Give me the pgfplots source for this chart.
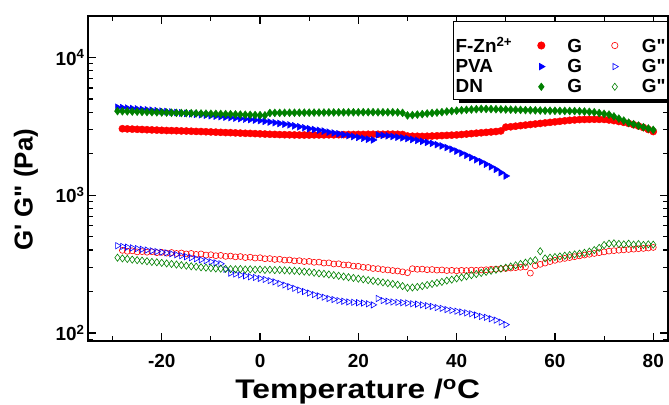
\documentclass[border=0pt]{standalone}
\usepackage{pgfplots}
\pgfplotsset{compat=1.18}
\usepackage{fontspec}
\setmainfont{Liberation Sans}
\newfontfamily\xlabfont{Liberation Sans Bold}[FakeStretch=1.18]
\usetikzlibrary{shadows}
\definecolor{dngreen}{RGB}{0,128,0}
\begin{document}
\begin{tikzpicture}
\path[use as bounding box] (-88bp,-64bp) rectangle (581bp,341bp);
\begin{axis}[
  scale only axis, width=580bp, height=325bp,
  at={(0,0)}, anchor=south west,
  xmin=-35, xmax=83, ymode=log, ymin=87.5, ymax=20000,
  xtick={-20,0,20,40,60,80}, xticklabels={-20,0,20,40,60,80},
  minor xtick={-30,-10,10,30,50,70},
  ytick={100,1000,10000},
  yticklabels={10\textsuperscript{2},10\textsuperscript{3},10\textsuperscript{4}},
  minor ytick={90,200,300,400,500,600,700,800,900,2000,3000,4000,5000,6000,7000,8000,9000},
  major tick length=8bp, minor tick length=5bp,
  axis line style={line width=1.6bp},
  major tick style={black, line width=1.4bp},
  minor tick style={black, line width=1.2bp},
  tick label style={font=\fontsize{19}{22}\selectfont\bfseries},
  xticklabel style={yshift=-10bp},
  xlabel={Temperature /\textsuperscript{o}C},
  ylabel={G\textquotesingle{} G\textquotedbl{} (Pa)},
  xlabel style={font=\fontsize{27}{32}\selectfont\xlabfont, at={(axis description cs:0.465,-0.178)}, anchor=base},
  ylabel style={font=\fontsize{26}{30}\selectfont\bfseries, at={(axis description cs:-0.107,0.465)}, anchor=center},
  legend columns=3,
  legend cell align=left,
  legend image code/.code={\draw[#1] plot coordinates {(0bp,0bp)};},
  legend style={at={(axis description cs:1,0.985)}, anchor=north east,
    font=\fontsize{19}{22}\selectfont\bfseries, draw=black, line width=0.8bp, fill=white,
    drop shadow={shadow xshift=5bp, shadow yshift=-3.5bp, fill=black, opacity=1},
    inner xsep=0bp, inner ysep=3bp, row sep=1.5bp,
    /tikz/column 1/.style={column sep=0bp},
    /tikz/column 2/.style={column sep=23.5bp},
    /tikz/column 3/.style={column sep=20.5bp},
    /tikz/column 4/.style={column sep=27.5bp},
    /tikz/column 5/.style={column sep=21.5bp}},
]
\addlegendimage{empty legend}\addlegendentry{\rule{0pt}{26bp}F-Zn\textsuperscript{2+}}
\addlegendimage{only marks, mark=*, mark size=3.6bp, red, /tikz/yshift=-5.5bp}\addlegendentry{\rule{0pt}{26bp}G}
\addlegendimage{only marks, mark=o, mark size=3.2bp, red, mark options={line width=0.6bp}, /tikz/yshift=-5.5bp}\addlegendentry{\rule{0pt}{26bp}G\textquotedbl}
\addlegendimage{empty legend}\addlegendentry{PVA}
\addlegendimage{only marks, mark=triangle*, mark size=3.6bp, blue, mark options={rotate=-90}}\addlegendentry{G}
\addlegendimage{only marks, mark=triangle, mark size=3.6bp, blue, mark options={rotate=-90, line width=0.6bp}}\addlegendentry{G\textquotedbl}
\addlegendimage{empty legend}\addlegendentry{DN}
\addlegendimage{only marks, mark=diamond*, mark size=3.6bp, dngreen}\addlegendentry{G}
\addlegendimage{only marks, mark=diamond, mark size=3.6bp, dngreen, mark options={line width=0.6bp}}\addlegendentry{G\textquotedbl}

% ---- open (G'') ----
\addplot[forget plot, only marks, mark=o, mark size=3bp, red, mark options={line width=0.6bp}] coordinates {
(-28,398)(-27,392)(-26,395)(-25,388)(-24,390)(-23,386)(-22,389)(-21,383)(-20,385)(-19,380)(-18,384)(-17,378)(-16,381)(-15,375)(-14,378)(-13,372)(-12,375)(-11,368)(-10,370)(-9,364)(-8,366)(-7,360)(-6,362)(-5,357)(-4,359)(-3,353)(-2,355)(-1,350)(0,352)(1,346)(2,347)(3,342)(4,343)(5,338)(6,339)(7,334)(8,335)(9,330)(10,331)(11,326)(12,327)(13,322)(14,323)(15,317)(16,318)(17,312)(18,312)(19,306)(20,305)(21,300)(22,299)(23,294)(24,293)(25,289)(26,287)(27,284)(28,282)(29,278)(30,274)(31,293)(32,290)(33,291)(34,288)(35,289)(36,286)(37,287)(38,284)(39,285)(40,283)(41,285)(42,284)(43,286)(44,285)(45,287)(46,288)(47,290)(48,291)(49,293)(50,294)(51,296)(52,298)(53,300)(54,302)(55,272)(56,308)(57,315)(58,322)(59,330)(60,337)(61,343)(62,348)(63,353)(64,358)(65,363)(66,368)(67,373)(68,378)(69,383)(70,388)(71,393)(72,396)(73,399)(74,401)(75,404)(76,406)(77,409)(78,411)(79,414)(80,418)};
\addplot[forget plot, only marks, mark=triangle, mark size=3.6bp, blue, mark options={rotate=-90, line width=0.6bp}] coordinates {
(-29,430)(-28,425)(-27,420)(-26,415)(-25,410)(-24,405)(-23,400)(-22,395)(-21,390)(-20,386)(-19,382)(-18,376)(-17,370)(-16,364)(-15,358)(-14,352)(-13,346)(-12,340)(-11,335)(-10,329)(-9,323)(-8,318)(-7,290)(-6,272)(-5,268)(-4,264)(-3,260)(-2,256)(-1,253)(0,249)(1,245)(2,240)(3,235)(4,229)(5,223)(6,217)(7,211)(8,205)(9,200)(10,195)(11,190)(12,186)(13,182)(14,178)(15,175)(16,172)(17,170)(18,168)(19,167)(20,166)(21,165)(22,163)(23,160)(24,178)(25,172)(26,170)(27,168)(28,167)(29,166)(30,165)(31,163)(32,162)(33,160)(34,158)(35,156)(36,153)(37,151)(38,148)(39,146)(40,144)(41,142)(42,140)(43,138)(44,135)(45,132)(46,130)(47,127)(48,124)(49,120)(50,115)};
\addplot[forget plot, only marks, mark=diamond, mark size=3.6bp, dngreen, mark options={line width=0.6bp}] coordinates {
(-29,352)(-28,348)(-27,345)(-26,341)(-25,338)(-24,335)(-23,332)(-22,328)(-21,326)(-20,323)(-19,320)(-18,317)(-17,314)(-16,311)(-15,308)(-14,305)(-13,303)(-12,300)(-11,298)(-10,296)(-9,294)(-8,293)(-7,292)(-6,291)(-5,290)(-4,291)(-3,289)(-2,290)(-1,288)(0,289)(1,287)(2,288)(3,286)(4,287)(5,285)(6,284)(7,283)(8,281)(9,279)(10,277)(11,274)(12,271)(13,269)(14,266)(15,263)(16,260)(17,257)(18,254)(19,251)(20,248)(21,245)(22,242)(23,239)(24,236)(25,233)(26,230)(27,227)(28,224)(29,219)(30,213)(31,214)(32,216)(33,219)(34,223)(35,227)(36,231)(37,235)(38,240)(39,244)(40,249)(41,253)(42,258)(43,263)(44,268)(45,273)(46,278)(47,283)(48,288)(49,293)(50,298)(51,304)(52,310)(53,317)(54,324)(55,332)(56,338)(57,392)(58,348)(59,352)(60,356)(61,360)(62,364)(63,368)(64,372)(65,377)(66,382)(67,390)(68,400)(69,415)(70,435)(71,445)(72,448)(73,443)(74,440)(75,445)(76,438)(77,442)(78,436)(79,440)(80,438)};

% ---- filled (G') ----
\addplot[forget plot, only marks, mark=*, mark size=3.6bp, red] coordinates {
(-28,3040)(-27,3030)(-26,3020)(-25,3010)(-24,3000)(-23,2990)(-22,2980)(-21,2970)(-20,2960)(-19,2950)(-18,2945)(-17,2940)(-16,2930)(-15,2925)(-14,2915)(-13,2905)(-12,2900)(-11,2890)(-10,2880)(-9,2870)(-8,2860)(-7,2850)(-6,2845)(-5,2835)(-4,2825)(-3,2815)(-2,2810)(-1,2800)(0,2790)(1,2780)(2,2770)(3,2765)(4,2755)(5,2750)(6,2745)(7,2740)(8,2735)(9,2735)(10,2735)(11,2740)(12,2740)(13,2740)(14,2745)(15,2745)(16,2750)(17,2755)(18,2760)(19,2760)(20,2765)(21,2765)(22,2770)(23,2770)(24,2770)(25,2770)(26,2775)(27,2775)(28,2770)(29,2760)(30,2690)(31,2680)(32,2680)(33,2675)(34,2680)(35,2690)(36,2700)(37,2710)(38,2720)(39,2730)(40,2740)(41,2760)(42,2780)(43,2800)(44,2820)(45,2840)(46,2860)(47,2880)(48,2900)(49,2930)(50,3120)(51,3140)(52,3170)(53,3200)(54,3230)(55,3260)(56,3290)(57,3320)(58,3350)(59,3380)(60,3410)(61,3440)(62,3470)(63,3500)(64,3520)(65,3540)(66,3550)(67,3555)(68,3560)(69,3555)(70,3550)(71,3520)(72,3480)(73,3430)(74,3380)(75,3320)(76,3250)(77,3180)(78,3100)(79,3000)(80,2900)};
\addplot[forget plot, only marks, mark=triangle*, mark size=4bp, blue, mark options={rotate=-90}] coordinates {
(-29,4350)(-28,4320)(-27,4290)(-26,4260)(-25,4230)(-24,4200)(-23,4170)(-22,4140)(-21,4110)(-20,4080)(-19,4050)(-18,4020)(-17,3990)(-16,3960)(-15,3930)(-14,3900)(-13,3870)(-12,3840)(-11,3810)(-10,3780)(-9,3750)(-8,3720)(-7,3690)(-6,3660)(-5,3630)(-4,3600)(-3,3570)(-2,3540)(-1,3510)(0,3480)(1,3440)(2,3400)(3,3360)(4,3320)(5,3280)(6,3240)(7,3190)(8,3140)(9,3090)(10,3040)(11,3000)(12,2960)(13,2920)(14,2870)(15,2830)(16,2790)(17,2750)(18,2710)(19,2670)(20,2630)(21,2590)(22,2550)(23,2520)(24,2740)(25,2720)(26,2700)(27,2670)(28,2640)(29,2610)(30,2580)(31,2540)(32,2500)(33,2460)(34,2420)(35,2380)(36,2330)(37,2280)(38,2220)(39,2160)(40,2090)(41,2020)(42,1950)(43,1880)(44,1810)(45,1750)(46,1680)(47,1610)(48,1540)(49,1460)(50,1380)};
\addplot[forget plot, only marks, mark=diamond*, mark size=4bp, dngreen] coordinates {
(-29,4080)(-28,4070)(-27,4060)(-26,4050)(-25,4040)(-24,4030)(-23,4020)(-22,4010)(-21,4000)(-20,3990)(-19,3980)(-18,3970)(-17,3960)(-16,3950)(-15,3945)(-14,3935)(-13,3930)(-12,3920)(-11,3910)(-10,3900)(-9,3895)(-8,3890)(-7,3880)(-6,3870)(-5,3860)(-4,3850)(-3,3840)(-2,3830)(-1,3820)(0,3810)(1,3800)(2,3950)(3,3960)(4,3960)(5,3965)(6,3970)(7,3970)(8,3975)(9,3975)(10,3980)(11,3980)(12,3985)(13,3985)(14,3990)(15,3990)(16,3995)(17,3995)(18,4000)(19,4000)(20,4000)(21,4005)(22,4005)(23,4005)(24,4000)(25,4000)(26,4000)(27,4000)(28,3990)(29,3960)(30,3800)(31,3820)(32,3850)(33,3880)(34,3920)(35,3950)(36,3980)(37,4010)(38,4050)(39,4080)(40,4110)(41,4140)(42,4170)(43,4190)(44,4210)(45,4230)(46,4230)(47,4220)(48,4210)(49,4200)(50,4190)(51,4180)(52,4170)(53,4160)(54,4150)(55,4140)(56,4130)(57,4120)(58,4110)(59,4105)(60,4100)(61,4095)(62,4090)(63,4085)(64,4080)(65,4070)(66,4050)(67,4030)(68,4000)(69,3950)(70,3900)(71,3850)(72,3730)(73,3600)(74,3480)(75,3360)(76,3280)(77,3200)(78,3120)(79,3050)(80,2980)};
\end{axis}
\end{tikzpicture}
\end{document}
